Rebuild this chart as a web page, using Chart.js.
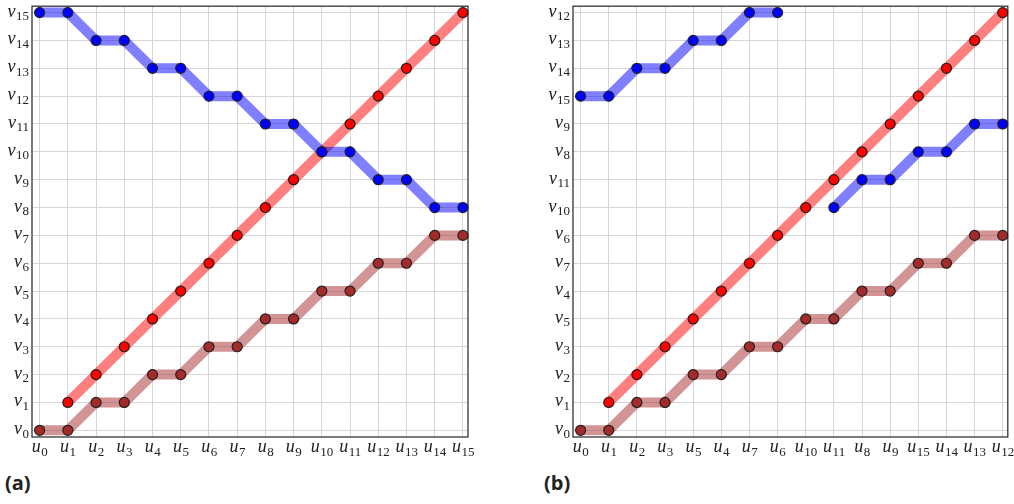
<!doctype html>
<html lang="en">
  <head>
    <meta charset="utf-8">
    <script src="https://cdn.jsdelivr.net/npm/chart.js"></script>
    <style>
      body { margin: 0; background: #fff; width: 1014px; height: 504px; overflow: hidden; position: relative; }
      canvas { position: absolute; top: 0; }
      #chartA { left: 0; }
      #chartB { left: 540px; }
      .tag { position: absolute; top: 469px; font-family: "Open Sans"; font-weight: 700; font-size: 20px; color: #222; }
    </style>
  </head>
  <body>
    <canvas id="chartA" width="482" height="466"></canvas>
    <canvas id="chartB" width="474" height="466"></canvas>
    <div class="tag" style="left:5px">(a)</div>
    <div class="tag" style="left:544px">(b)</div>
    <script>
      // tick labels (letter + subscript)
      const xLabelsA = ['u0', 'u1', 'u2', 'u3', 'u4', 'u5', 'u6', 'u7', 'u8', 'u9', 'u10', 'u11', 'u12', 'u13', 'u14', 'u15'];
      const yLabelsA = ['v0', 'v1', 'v2', 'v3', 'v4', 'v5', 'v6', 'v7', 'v8', 'v9', 'v10', 'v11', 'v12', 'v13', 'v14', 'v15'];
      const xLabelsB = ['u0', 'u1', 'u2', 'u3', 'u5', 'u4', 'u7', 'u6', 'u10', 'u11', 'u8', 'u9', 'u15', 'u14', 'u13', 'u12'];
      const yLabelsB = ['v0', 'v1', 'v2', 'v3', 'v5', 'v4', 'v7', 'v6', 'v10', 'v11', 'v8', 'v9', 'v15', 'v14', 'v13', 'v12'];

      // row index on the y axis for each column on the x axis (null = no point)
      const brownA = [0, 0, 1, 1, 2, 2, 3, 3, 4, 4, 5, 5, 6, 6, 7, 7];
      const redA = [null, 1, 2, 3, 4, 5, 6, 7, 8, 9, 10, 11, 12, 13, 14, 15];
      const blueA = [15, 15, 14, 14, 13, 13, 12, 12, 11, 11, 10, 10, 9, 9, 8, 8];

      const brownB = [0, 0, 1, 1, 2, 2, 3, 3, 4, 4, 5, 5, 6, 6, 7, 7];
      const redB = [null, 1, 2, 3, 4, 5, 6, 7, 8, 9, 10, 11, 12, 13, 14, 15];
      const blueB = [12, 12, 13, 13, 14, 14, 15, 15, null, 8, 9, 9, 10, 10, 11, 11];

      const colors = {
        brown: { band: 'rgba(165,42,42,0.5)', dot: '#a52a2a' },
        red: { band: 'rgba(255,0,0,0.5)', dot: '#ff0000' },
        blue: { band: 'rgba(0,0,255,0.5)', dot: '#0000ff' }
      };

      function toPoints(values) {
        return values.map(function (v, i) { return { x: i, y: v }; });
      }

      function drawMath(ctx, text, x, y, align) {
        var base = text[0];
        var sub = text.slice(1);
        ctx.font = 'italic 18px "Liberation Serif"';
        var wb = ctx.measureText(base).width;
        ctx.font = '13px "Liberation Serif"';
        var ws = ctx.measureText(sub).width;
        var x0 = align === 'right' ? x - wb - ws - 0.5 : x - (wb + ws) / 2;
        ctx.font = 'italic 18px "Liberation Serif"';
        ctx.fillText(base, x0, y);
        ctx.font = '13px "Liberation Serif"';
        ctx.fillText(sub, x0 + wb + 0.5, y + 3.5);
      }

      const mathTicks = {
        id: 'mathTicks',
        beforeDatasetsDraw(chart) {
          var a = chart.chartArea;
          var ctx = chart.ctx;
          ctx.save();
          ctx.strokeStyle = '#333';
          ctx.lineWidth = 1.3;
          ctx.strokeRect(a.left, a.top, a.right - a.left, a.bottom - a.top);
          ctx.restore();
        },
        afterDraw(chart, args, opts) {
          var ctx = chart.ctx;
          var xs = chart.scales.x;
          var ys = chart.scales.y;
          ctx.save();
          ctx.fillStyle = '#222';
          ctx.textBaseline = 'alphabetic';
          opts.xLabels.forEach(function (lab, i) {
            drawMath(ctx, lab, xs.getPixelForValue(i), chart.chartArea.bottom + 15, 'center');
          });
          opts.yLabels.forEach(function (lab, i) {
            drawMath(ctx, lab, chart.chartArea.left - 3, ys.getPixelForValue(i) + 4, 'right');
          });
          ctx.restore();
        }
      };

      function makeChart(id, xLabels, yLabels, brown, red, blue, axisWidth, rightPad) {
        var series = [
          ['brown', brown, 6, 3],
          ['red', red, 5, 2],
          ['blue', blue, 4, 1]
        ];
        var datasets = [];
        series.forEach(function (s) {
          var c = colors[s[0]];
          datasets.push({
            data: toPoints(s[1]),
            borderColor: c.band,
            borderWidth: 10,
            borderCapStyle: 'butt',
            borderJoinStyle: 'miter',
            pointRadius: 0,
            tension: 0,
            fill: false,
            order: s[2]
          });
          datasets.push({
            data: toPoints(s[1]),
            showLine: false,
            pointRadius: 5,
            pointBackgroundColor: c.dot,
            pointBorderColor: '#222',
            pointBorderWidth: 1.2,
            clip: false,
            order: s[3]
          });
        });

        var ticksEvery = function (scale) {
          scale.ticks = xLabels.map(function (_, i) { return { value: i }; });
        };

        return new Chart(document.getElementById(id), {
          type: 'line',
          data: { datasets: datasets },
          options: {
            responsive: false,
            animation: false,
            events: [],
            layout: { padding: { top: 2, right: rightPad, left: 0, bottom: 0 } },
            plugins: {
              legend: { display: false },
              tooltip: { enabled: false },
              mathTicks: { xLabels: xLabels, yLabels: yLabels }
            },
            scales: {
              x: {
                type: 'linear',
                min: -0.27,
                max: 15.18,
                afterBuildTicks: ticksEvery,
                afterFit: function (s) { s.height = 29; },
                ticks: { display: false },
                border: { display: false },
                grid: { color: '#d6d6d6', lineWidth: 1, drawTicks: false }
              },
              y: {
                type: 'linear',
                min: -0.24,
                max: 15.23,
                afterBuildTicks: ticksEvery,
                afterFit: function (s) { s.width = axisWidth; },
                ticks: { display: false },
                border: { display: false },
                grid: { color: '#d6d6d6', lineWidth: 1, drawTicks: false }
              }
            }
          },
          plugins: [mathTicks]
        });
      }

      makeChart('chartA', xLabelsA, yLabelsA, brownA, redA, blueA, 32, 14);
      makeChart('chartB', xLabelsB, yLabelsB, brownB, redB, blueB, 33, 6);
    </script>
  </body>
</html>
